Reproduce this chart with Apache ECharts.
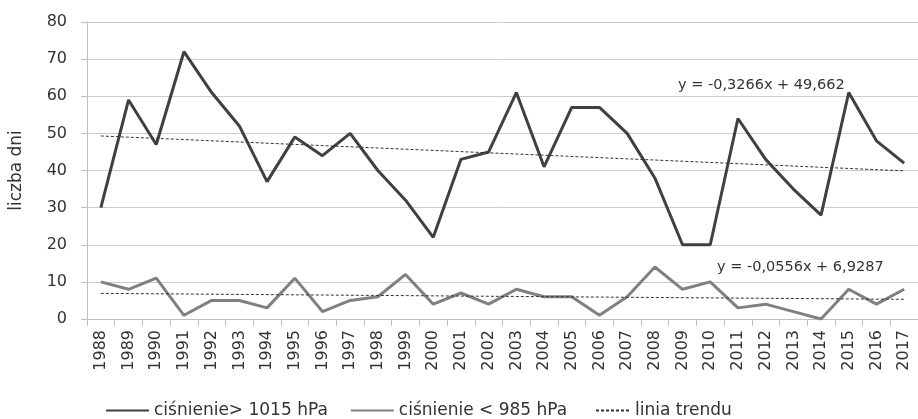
<!DOCTYPE html>
<html>
<head>
<meta charset="utf-8">
<script src="https://cdn.jsdelivr.net/npm/echarts@6/dist/echarts.min.js"></script>
<style>
  html, body { margin: 0; padding: 0; background: #fff; }
  #main { width: 918px; height: 419px; }
</style>
</head>
<body>
<div id="main"></div>
<script>
// lata
var years = ['1988', '1989', '1990', '1991', '1992', '1993', '1994', '1995', '1996', '1997',
    '1998', '1999', '2000', '2001', '2002', '2003', '2004', '2005', '2006', '2007',
    '2008', '2009', '2010', '2011', '2012', '2013', '2014', '2015', '2016', '2017'];

// ciśnienie > 1015 hPa
var highDays = [30, 59, 47, 72, 61, 52, 37, 49, 44, 50,
    40, 32, 22, 43, 45, 61, 41, 57, 57, 50,
    38, 20, 20, 54, 43, 35, 28, 61, 48, 42];

// ciśnienie < 985 hPa
var lowDays = [10, 8, 11, 1, 5, 5, 3, 11, 2, 5,
    6, 12, 4, 7, 4, 8, 6, 6, 1, 6,
    14, 8, 10, 3, 4, 2, 0, 8, 4, 8];

// końce linii trendu (1988, 2017)
var trendHigh = [49.3, 39.9];
var trendLow = [6.9, 5.3];

var yTicks = [0, 10, 20, 30, 40, 50, 60, 70, 80];

var myChart = echarts.init(document.getElementById('main'));

var font = 'DejaVu Sans';
var legendText = { fontFamily: font, fontSize: 17, color: '#333' };

myChart.setOption({
    animation: false,
    grid: { left: 86, top: 22, width: 835, height: 297 },
    legend: [
        {
            left: 100,
            top: 397,
            itemWidth: 43,
            itemHeight: 14,
            itemGap: 22,
            itemStyle: { opacity: 0 },
            textStyle: legendText,
            data: ['ciśnienie> 1015 hPa', 'ciśnienie < 985 hPa']
        },
        {
            left: 590,
            top: 397,
            itemWidth: 34,
            itemHeight: 14,
            itemStyle: { opacity: 0 },
            textStyle: legendText,
            data: ['linia trendu']
        }
    ],
    xAxis: {
        type: 'category',
        data: years,
        boundaryGap: true,
        axisLine: { lineStyle: { color: '#bfbfbf' } },
        axisTick: { show: true, length: 7, lineStyle: { color: '#bfbfbf' } },
        axisLabel: {
            rotate: 90,
            margin: 11,
            interval: 0,
            fontFamily: font,
            fontSize: 16,
            color: '#333'
        }
    },
    yAxis: {
        type: 'value',
        min: yTicks[0],
        max: yTicks[yTicks.length - 1],
        interval: 10,
        name: 'liczba dni',
        nameLocation: 'middle',
        nameRotate: 90,
        nameGap: 62,
        nameTextStyle: { fontFamily: font, fontSize: 17, color: '#333' },
        axisLine: { show: true, lineStyle: { color: '#bfbfbf' } },
        axisTick: { show: true, length: 6, lineStyle: { color: '#bfbfbf' } },
        axisLabel: { fontFamily: font, fontSize: 16, color: '#333', margin: 20 },
        splitLine: { lineStyle: { color: '#cccccc' } }
    },
    graphic: [
        {
            type: 'text', left: 678, top: 78,
            style: { text: 'y = -0,3266x + 49,662', font: '14.5px "DejaVu Sans"', fill: '#333' }
        },
        {
            type: 'text', left: 717, top: 260,
            style: { text: 'y = -0,0556x + 6,9287', font: '14.5px "DejaVu Sans"', fill: '#333' }
        }
    ],
    series: [
        {
            name: 'ciśnienie> 1015 hPa',
            type: 'line',
            data: highDays,
            symbol: 'none',
            lineStyle: { color: '#404040', width: 3 },
            itemStyle: { color: '#404040' },
            z: 3
        },
        {
            name: 'ciśnienie < 985 hPa',
            type: 'line',
            data: lowDays,
            symbol: 'none',
            lineStyle: { color: '#808080', width: 3 },
            itemStyle: { color: '#808080' },
            z: 3
        },
        {
            name: 'linia trendu',
            type: 'line',
            data: [[years[0], trendHigh[0]], [years[years.length - 1], trendHigh[1]]],
            symbol: 'none',
            lineStyle: { color: '#333', width: 1, type: [3, 2] },
            itemStyle: { color: '#333' },
            z: 4
        },
        {
            name: 'linia trendu',
            type: 'line',
            data: [[years[0], trendLow[0]], [years[years.length - 1], trendLow[1]]],
            symbol: 'none',
            lineStyle: { color: '#333', width: 1, type: [3, 2] },
            itemStyle: { color: '#333' },
            z: 4
        }
    ]
});
</script>
</body>
</html>
